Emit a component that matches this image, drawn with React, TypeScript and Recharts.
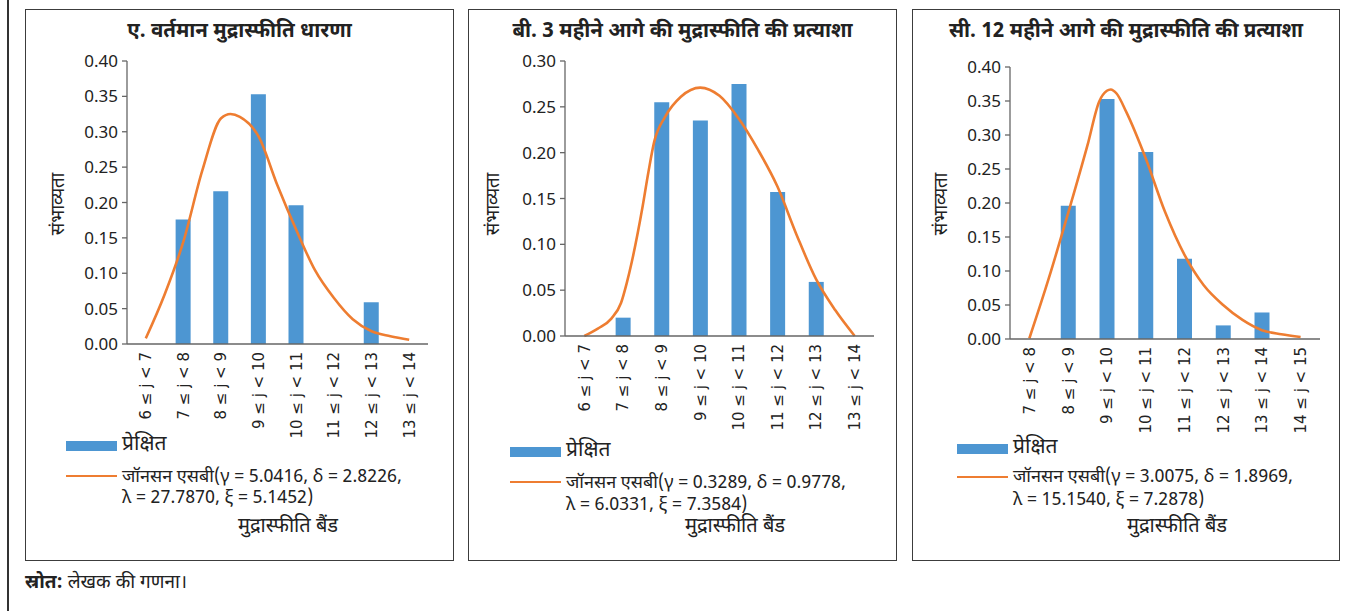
import React from 'react';
import { ComposedChart, Bar, Line, XAxis, YAxis } from 'recharts';

// ---------- data ----------
const bandsA = ['6 ≤ j < 7', '7 ≤ j < 8', '8 ≤ j < 9', '9 ≤ j < 10', '10 ≤ j < 11', '11 ≤ j < 12', '12 ≤ j < 13', '13 ≤ j < 14'];
const bandsB = ['6 ≤ j < 7', '7 ≤ j < 8', '8 ≤ j < 9', '9 ≤ j < 10', '10 ≤ j < 11', '11 ≤ j < 12', '12 ≤ j < 13', '13 ≤ j < 14'];
const bandsC = ['7 ≤ j < 8', '8 ≤ j < 9', '9 ≤ j < 10', '10 ≤ j < 11', '11 ≤ j < 12', '12 ≤ j < 13', '13 ≤ j < 14', '14 ≤ j < 15'];

const observedA = [0, 0.176, 0.216, 0.353, 0.196, 0, 0.059, 0];
const observedB = [0, 0.02, 0.255, 0.235, 0.275, 0.157, 0.059, 0];
const observedC = [0, 0.196, 0.353, 0.275, 0.118, 0.02, 0.039, 0];

// fitted curve; x in band units (band i centre = i + 0.5)
const curveXA = [0.5, 1.0, 1.5, 2.0, 2.5, 2.75, 3.0, 3.5, 4.0, 4.5, 5.0, 5.5, 6.0, 6.5, 7.0, 7.5];
const curveYA = [0.008, 0.07, 0.145, 0.245, 0.319, 0.325, 0.321, 0.293, 0.224, 0.161, 0.104, 0.065, 0.035, 0.018, 0.011, 0.006];
const curveXB = [0.5, 0.85, 1.2, 1.45, 1.6, 1.73, 2.0, 2.16, 2.31, 2.59, 3.0, 3.5, 4.0, 4.5, 5.0, 5.5, 6.0, 6.5, 7.0, 7.5];
const curveYB = [0, 0.008, 0.019, 0.036, 0.058, 0.081, 0.139, 0.179, 0.212, 0.239, 0.261, 0.271, 0.262, 0.237, 0.203, 0.163, 0.11, 0.062, 0.028, 0];
const curveXC = [0.5, 1.0, 1.5, 2.0, 2.3, 2.5, 2.6, 2.75, 3.0, 3.5, 4.0, 4.5, 5.0, 5.5, 6.0, 6.5, 7.0, 7.5];
const curveYC = [0.001, 0.089, 0.185, 0.285, 0.349, 0.365, 0.367, 0.361, 0.334, 0.266, 0.187, 0.124, 0.079, 0.05, 0.028, 0.013, 0.007, 0.003];

const ticks04 = [0, 0.05, 0.1, 0.15, 0.2, 0.25, 0.3, 0.35, 0.4];
const ticks03 = [0, 0.05, 0.1, 0.15, 0.2, 0.25, 0.3];
const boundaryTicks = [0, 1, 2, 3, 4, 5, 6, 7, 8];

const titleA = 'ए. वर्तमान मुद्रास्फीति धारणा';
const titleB = 'बी. 3 महीने आगे की मुद्रास्फीति की प्रत्याशा';
const titleC = 'सी. 12 महीने आगे की मुद्रास्फीति की प्रत्याशा';
const fitA = ['जॉनसन एसबी(γ = 5.0416, δ = 2.8226,', 'λ = 27.7870, ξ = 5.1452)'];
const fitB = ['जॉनसन एसबी(γ = 0.3289, δ = 0.9778,', 'λ = 6.0331, ξ = 7.3584)'];
const fitC = ['जॉनसन एसबी(γ = 3.0075, δ = 1.8969,', 'λ = 15.1540, ξ = 7.2878)'];
const observedLabel = 'प्रेक्षित';
const yLabel = 'संभाव्यता';
const xLabel = 'मुद्रास्फीति बैंड';

// ---------- style ----------
const FONT = '"Noto Sans Devanagari", "Noto Sans", "Open Sans", sans-serif';
const NUMFONT = '"Noto Sans", "Open Sans", sans-serif';
const TICKFONT = '"DejaVu Sans", "Noto Sans", sans-serif';
const BLUE = '#4d96d2';
const ORANGE = '#ee7d31';
const AXIS = '#666';
const TEXT = '#222';

type PanelCfg = {
  title: string;
  bands: string[];
  observed: number[];
  curveX: number[];
  curveY: number[];
  yMax: number;
  yTicks: number[];
  fit: string[];
  box: { left: number; top: number; width: number; height: number };
  plot: { left: number; top: number; right: number; bottom: number };
  yLabelX: number;
  yLabelY: number;
  legend: { left: number; rectTop: number; lineY: number; text1Y: number; text2Y: number };
  xTitleX: number;
};

const panels: PanelCfg[] = [
  {
    title: titleA, bands: bandsA, observed: observedA, curveX: curveXA, curveY: curveYA,
    yMax: 0.4, yTicks: ticks04, fit: fitA,
    box: { left: 25, top: 9, width: 429, height: 552 },
    plot: { left: 127, top: 61, right: 428, bottom: 344 },
    yLabelX: 60, yLabelY: 204,
    legend: { left: 66, rectTop: 441, lineY: 476, text1Y: 477, text2Y: 498 },
    xTitleX: 288,
  },
  {
    title: titleB, bands: bandsB, observed: observedB, curveX: curveXB, curveY: curveYB,
    yMax: 0.3, yTicks: ticks03, fit: fitB,
    box: { left: 468, top: 9, width: 429, height: 552 },
    plot: { left: 565, top: 61, right: 874, bottom: 336 },
    yLabelX: 495, yLabelY: 204,
    legend: { left: 510, rectTop: 447, lineY: 482, text1Y: 483, text2Y: 505 },
    xTitleX: 735,
  },
  {
    title: titleC, bands: bandsC, observed: observedC, curveX: curveXC, curveY: curveYC,
    yMax: 0.4, yTicks: ticks04, fit: fitC,
    box: { left: 912, top: 9, width: 428, height: 552 },
    plot: { left: 1010, top: 67, right: 1320, bottom: 339 },
    yLabelX: 943, yLabelY: 204,
    legend: { left: 957, rectTop: 444, lineY: 477, text1Y: 477, text2Y: 500 },
    xTitleX: 1177,
  },
];

function Panel({ p }: { p: PanelCfg }) {
  const data = p.bands.map((b, i) => ({ band: b, observed: p.observed[i] }));
  const curve = p.curveX.map((x, i) => ({ x, y: p.curveY[i] }));
  const wrapLeft = p.box.left + 2;
  const wrapTop = p.plot.top - 20;
  const width = p.box.width - 4;
  const height = p.plot.bottom - wrapTop + 110;
  const yW = p.plot.left - wrapLeft;
  const mr = wrapLeft + width - p.plot.right;
  const baseY = p.plot.bottom - wrapTop;

  const BoundaryTick = (props: any) => (
    <line x1={props.x} x2={props.x} y1={baseY} y2={baseY + 6} stroke={AXIS} strokeWidth={1.3} />
  );
  const CatTick = (props: any) => {
    const y = baseY + 8;
    return (
      <text
        x={props.x}
        y={y}
        transform={`rotate(-90, ${props.x}, ${y})`}
        textAnchor="end"
        dy="0.36em"
        fontSize={15}
        fill={TEXT}
        fontFamily={TICKFONT}
      >
        {props.payload.value}
      </text>
    );
  };

  const L = p.legend;
  return (
    <>
      <div
        style={{
          position: 'absolute', left: p.box.left, top: p.box.top, width: p.box.width, height: p.box.height,
          boxSizing: 'border-box', border: '1.5px solid #3c3c3c',
        }}
      />
      <div
        style={{
          position: 'absolute', left: p.box.left, top: p.box.top + 9, width: p.box.width, textAlign: 'center',
          fontFamily: FONT, fontWeight: 700, fontSize: 20.5, color: TEXT, lineHeight: '28px', whiteSpace: 'nowrap',
        }}
      >
        {p.title}
      </div>
      <div
        style={{
          position: 'absolute', left: p.yLabelX, top: p.yLabelY, transform: 'translate(-50%, -50%) rotate(-90deg)',
          fontFamily: FONT, fontSize: 18.5, color: TEXT, whiteSpace: 'nowrap', lineHeight: '22px',
        }}
      >
        {yLabel}
      </div>
      <div style={{ position: 'absolute', left: wrapLeft, top: wrapTop }}>
        <ComposedChart width={width} height={height} data={data} margin={{ top: 20, right: mr, left: 0, bottom: 10 }}>
          <XAxis
            xAxisId="num" type="number" dataKey="x" domain={[0, 8]} ticks={boundaryTicks}
            tick={<BoundaryTick />} tickLine={false} axisLine={false} height={0} allowDataOverflow interval={0}
          />
          <XAxis
            xAxisId="cat" dataKey="band" type="category" tickLine={false}
            axisLine={{ stroke: AXIS, strokeWidth: 1.3 }} height={100} interval={0} tick={<CatTick />}
          />
          <YAxis
            yAxisId="y" type="number" domain={[0, p.yMax]} ticks={p.yTicks} interval={0}
            tickFormatter={(v: number) => v.toFixed(2)} width={yW} tickSize={5} tickMargin={4}
            axisLine={{ stroke: AXIS, strokeWidth: 1.3 }} tickLine={{ stroke: AXIS, strokeWidth: 1.3 }}
            tick={{ fill: TEXT, fontSize: 17, fontFamily: NUMFONT }}
          />
          <Bar xAxisId="cat" yAxisId="y" dataKey="observed" fill={BLUE} barSize={15} isAnimationActive={false} />
          <Line
            xAxisId="num" yAxisId="y" data={curve} dataKey="y" type="monotone" stroke={ORANGE}
            strokeWidth={2.6} dot={false} activeDot={false} isAnimationActive={false}
          />
        </ComposedChart>
      </div>
      {/* legend */}
      <div style={{ position: 'absolute', left: L.left, top: L.rectTop, width: 51, height: 10, background: BLUE }} />
      <div
        style={{
          position: 'absolute', left: L.left + 56, top: L.rectTop + 4, transform: 'translateY(-50%)',
          fontFamily: FONT, fontSize: 21, color: TEXT, whiteSpace: 'nowrap', lineHeight: '24px',
        }}
      >
        {observedLabel}
      </div>
      <div style={{ position: 'absolute', left: L.left, top: L.lineY - 1.25, width: 51, height: 2.5, background: ORANGE }} />
      <div
        style={{
          position: 'absolute', left: L.left + 56, top: L.text1Y, transform: 'translateY(-50%)',
          fontFamily: FONT, fontSize: 18, color: TEXT, whiteSpace: 'nowrap', lineHeight: '21px',
        }}
      >
        {p.fit[0]}
      </div>
      <div
        style={{
          position: 'absolute', left: L.left + 56, top: L.text2Y, transform: 'translateY(-50%)',
          fontFamily: FONT, fontSize: 18, color: TEXT, whiteSpace: 'nowrap', lineHeight: '21px',
        }}
      >
        {p.fit[1]}
      </div>
      <div
        style={{
          position: 'absolute', left: p.xTitleX, top: 527, transform: 'translate(-50%, -50%)',
          fontFamily: FONT, fontSize: 20, color: TEXT, whiteSpace: 'nowrap', lineHeight: '24px',
        }}
      >
        {xLabel}
      </div>
    </>
  );
}

export default function App() {
  return (
    <div style={{ position: 'absolute', left: 0, top: 0, width: 1358, height: 611, background: '#fff', overflow: 'hidden' }}>
      <div style={{ position: 'absolute', left: 7, top: 0, width: 1.5, height: 611, background: '#333' }} />
      {panels.map((p, i) => (
        <Panel key={i} p={p} />
      ))}
      <div
        style={{
          position: 'absolute', left: 25, top: 584, transform: 'translateY(-50%)',
          fontFamily: FONT, fontSize: 19, color: TEXT, whiteSpace: 'nowrap', lineHeight: '22px',
        }}
      >
        <b>स्रोत:</b> लेखक की गणना।
      </div>
    </div>
  );
}
